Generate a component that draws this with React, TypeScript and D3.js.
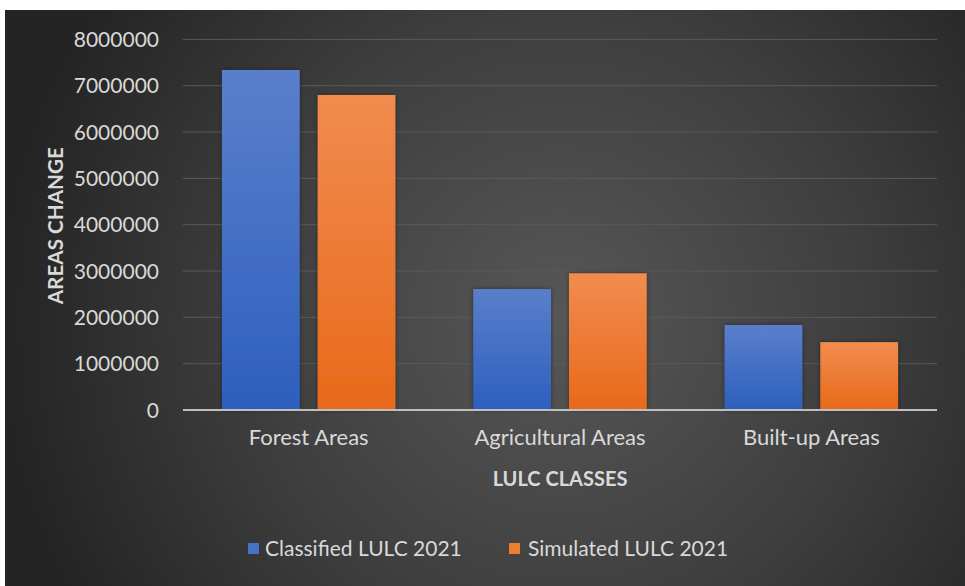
import React from "react";
import * as d3 from "d3";

// Chart data
const categories = ["Forest Areas", "Agricultural Areas", "Built-up Areas"];
const seriesNames = ["Classified LULC 2021", "Simulated LULC 2021"];
const classifiedValues = [7340000, 2610000, 1835000];
const simulatedValues = [6800000, 2950000, 1465000];
const yTicks = [0, 1000000, 2000000, 3000000, 4000000, 5000000, 6000000, 7000000, 8000000];

const W = 965;
const H = 586;
const plot = { left: 183, right: 937, top: 39.4, bottom: 410 };
const FONT = "Lato, 'Open Sans', sans-serif";

export default function App() {
  const x0 = d3
    .scaleBand<string>()
    .domain(categories)
    .range([plot.left, plot.right])
    .paddingInner(0.31)
    .paddingOuter(0.155);
  const x1 = d3
    .scaleBand<string>()
    .domain(seriesNames)
    .range([0, x0.bandwidth()])
    .paddingInner(0.188);
  const y = d3.scaleLinear().domain([0, 8000000]).range([plot.bottom, plot.top]);

  const seriesValues = [classifiedValues, simulatedValues];
  const fills = ["url(#gBlue)", "url(#gOrange)"];
  const legendColors = ["#4472c4", "#ed7d31"];

  return (
    <div style={{ position: "fixed", left: 0, top: 0 }}>
      <svg width={W} height={H} style={{ display: "block" }}>
        <defs>
          <radialGradient id="bg" cx="560" cy="320" r="560" gradientUnits="userSpaceOnUse">
            <stop offset="0" stopColor="#575757" />
            <stop offset="0.55" stopColor="#3e3e3e" />
            <stop offset="1" stopColor="#242424" />
          </radialGradient>
          <linearGradient id="gBlue" x1="0" y1="0" x2="0" y2="1">
            <stop offset="0" stopColor="#5a7fcb" />
            <stop offset="1" stopColor="#2d5fbd" />
          </linearGradient>
          <linearGradient id="gOrange" x1="0" y1="0" x2="0" y2="1">
            <stop offset="0" stopColor="#f18c4f" />
            <stop offset="1" stopColor="#e8691a" />
          </linearGradient>
          <filter id="shadow" x="-20%" y="-20%" width="140%" height="140%">
            <feDropShadow dx="0" dy="0" stdDeviation="2" floodColor="#000" floodOpacity="0.45" />
          </filter>
        </defs>
        <rect x={0} y={0} width={W} height={H} fill="#ffffff" />
        <rect x={5} y={10} width={W - 5} height={H - 10} fill="url(#bg)" />

        {/* gridlines */}
        {yTicks.slice(1).map((t) => (
          <line
            key={t}
            x1={plot.left}
            x2={plot.right}
            y1={y(t)}
            y2={y(t)}
            stroke="#5a5a5a"
            strokeWidth={1}
          />
        ))}

        {/* y tick labels */}
        {yTicks.map((t) => (
          <text
            key={t}
            x={159}
            y={y(t)}
            dy="0.36em"
            textAnchor="end"
            fill="#d9d9d9"
            fontFamily={FONT}
            fontSize={21}
          >
            {t}
          </text>
        ))}

        {/* bars */}
        {categories.map((c, i) => (
          <g key={c} transform={`translate(${x0(c)},0)`}>
            {seriesNames.map((s, j) => {
              const v = seriesValues[j][i];
              return (
                <rect
                  key={s}
                  x={x1(s)}
                  y={y(v)}
                  width={x1.bandwidth()}
                  height={y(0) - y(v)}
                  fill={fills[j]}
                  filter="url(#shadow)"
                />
              );
            })}
          </g>
        ))}

        {/* zero axis line */}
        <line
          x1={plot.left}
          x2={plot.right}
          y1={y(0)}
          y2={y(0)}
          stroke="#bfbfbf"
          strokeWidth={2}
        />

        {/* category labels */}
        {categories.map((c) => (
          <text
            key={c}
            x={(x0(c) as number) + x0.bandwidth() / 2}
            y={445}
            textAnchor="middle"
            fill="#d9d9d9"
            fontFamily={FONT}
            fontSize={22}
          >
            {c}
          </text>
        ))}

        {/* axis titles */}
        <text
          x={(plot.left + plot.right) / 2}
          y={486}
          textAnchor="middle"
          fill="#d9d9d9"
          fontFamily={FONT}
          fontSize={20}
          fontWeight="bold"
        >
          LULC CLASSES
        </text>
        <text
          transform={`translate(63,${(plot.top + plot.bottom) / 2 + 1}) rotate(-90)`}
          textAnchor="middle"
          fill="#d9d9d9"
          fontFamily={FONT}
          fontSize={20.7}
          fontWeight="bold"
        >
          AREAS CHANGE
        </text>

        {/* legend */}
        {[
          { x: 248, tx: 265 },
          { x: 509, tx: 528 },
        ].map((p, j) => (
          <g key={seriesNames[j]}>
            <rect x={p.x} y={543} width={11} height={11} fill={legendColors[j]} />
            <text
              x={p.tx}
              y={548}
              dy="0.36em"
              fill="#d9d9d9"
              fontFamily={FONT}
              fontSize={21}
            >
              {seriesNames[j]}
            </text>
          </g>
        ))}
      </svg>
    </div>
  );
}
